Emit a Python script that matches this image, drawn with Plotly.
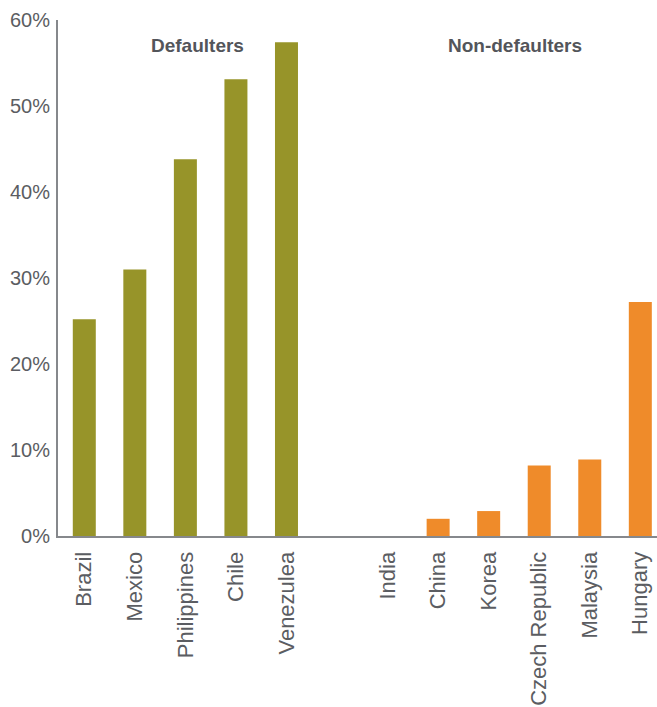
import plotly.graph_objects as go

defaulters = ["Brazil", "Mexico", "Philippines", "Chile", "Venezulea"]
defaulter_values = [25.2, 31.0, 43.8, 53.1, 57.4]

non_defaulters = ["India", "China", "Korea", "Czech Republic", "Malaysia", "Hungary"]
non_defaulter_values = [0.0, 2.0, 2.9, 8.2, 8.9, 27.2]

spacer = " "
category_order = defaulters + [spacer] + non_defaulters

y_ticks = [0, 10, 20, 30, 40, 50, 60]
y_tick_text = [f"{v}%" for v in y_ticks]

olive = "#979429"
orange = "#ef8b2a"
text_gray = "#5b5d62"
axis_gray = "#86888c"
font_family = "Liberation Sans, Arial, sans-serif"

fig = go.Figure()
fig.add_trace(go.Bar(x=defaulters, y=defaulter_values, marker_color=olive,
                     marker_line_width=0, width=0.455, showlegend=False))
fig.add_trace(go.Bar(x=non_defaulters, y=non_defaulter_values, marker_color=orange,
                     marker_line_width=0, width=0.455, showlegend=False))

fig.update_layout(
    width=657, height=707,
    margin=dict(l=58, r=0, t=20, b=171),
    plot_bgcolor="white", paper_bgcolor="white",
    barmode="overlay",
    font=dict(family=font_family, color=text_gray),
    xaxis=dict(
        type="category",
        categoryorder="array", categoryarray=category_order,
        range=[-0.52, 11.33],
        showgrid=False, zeroline=False,
        showline=True, linecolor=axis_gray, linewidth=2,
        ticks="", tickangle=-90,
        tickfont=dict(size=22, color=text_gray, family=font_family),
        ticklabelstandoff=5,
    ),
    yaxis=dict(
        range=[0, 60],
        tickmode="array",
        tickvals=y_ticks,
        ticktext=y_tick_text,
        showgrid=False, zeroline=False,
        showline=True, linecolor=axis_gray, linewidth=2,
        ticks="",
        tickfont=dict(size=20, color=text_gray, family=font_family),
        ticklabelstandoff=2,
    ),
    annotations=[
        dict(text="<b>Defaulters</b>", x=(197.5 - 58) / 599, y=0.9515,
             xref="paper", yref="paper", xanchor="center", yanchor="middle",
             showarrow=False,
             font=dict(size=19, color="#53555a", family=font_family)),
        dict(text="<b>Non-defaulters</b>", x=(514.5 - 58) / 599, y=0.9515,
             xref="paper", yref="paper", xanchor="center", yanchor="middle",
             showarrow=False,
             font=dict(size=19, color="#53555a", family=font_family)),
    ],
)

fig.write_html("out.html")
